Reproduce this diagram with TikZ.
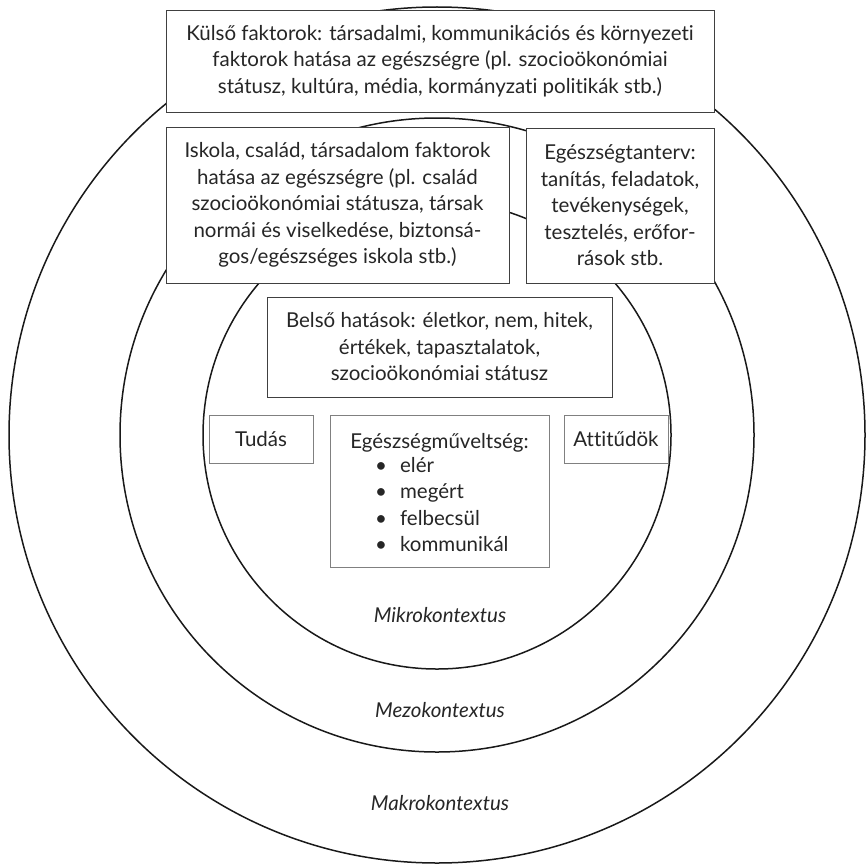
\documentclass[tikz,border=0pt]{standalone}
\usepackage{fontspec}
\setmainfont{Lato}[Ligatures=NoCommon]
\begin{document}
\begin{tikzpicture}[x=1pt,y=-1pt,
  ring/.style={draw=black!90, line width=1.5pt},
  boxa/.style={draw=black!75, line width=0.9pt, fill=white, rectangle, inner sep=0pt, align=center, text=black!85, font=\fontsize{20.5}{26.5}\selectfont},
  boxb/.style={boxa, draw=black!50},
  lbl/.style={text=black!85, font=\fontsize{20.5}{26.5}\selectfont\itshape},
  txt/.style={text=black!85, font=\fontsize{20.5}{26.5}\selectfont, inner sep=0pt}]
\useasboundingbox (0,0) rectangle (866,864);
\coordinate (c) at (437,435);
\draw[ring] (c) circle[radius=428pt];
\draw[ring] (c) circle[radius=317pt];
\draw[ring] (c) circle[radius=234pt];

\node[boxa, minimum width=548pt, minimum height=102pt] (top) at (440,61)
  {Külső faktorok: társadalmi, kommunikációs és környezeti\\faktorok hatása az egészségre (pl. szocioökonómiai\\státusz, kultúra, média, kormányzati politikák stb.)};
\node[boxa, minimum width=343pt, minimum height=156pt] (iskola) at (337.5,205)
  {Iskola, család, társadalom faktorok\\hatása az egészségre (pl. család\\szocioökonómiai státusza, társak\\normái és viselkedése, biztonsá-\\gos/egészséges iskola stb.)};
\node[boxa, minimum width=188pt, minimum height=155pt] (tanterv) at (620,205.5)
  {Egészségtanterv:\\tanítás, feladatok,\\tevékenységek,\\tesztelés, erőfor-\\rások stb.};
\node[boxa, minimum width=345pt, minimum height=100pt] (belso) at (439.5,347)
  {Belső hatások: életkor, nem, hitek,\\értékek, tapasztalatok,\\szocioökonómiai státusz};
\node[boxb, minimum width=104pt, minimum height=48pt] (tudas) at (261,439) {Tudás};
\node[boxb, minimum width=104pt, minimum height=48pt] (attit) at (616,439) {Attitűdök};
\node[boxb, minimum width=219pt, minimum height=152pt] (egmuv) at (439.5,491) {};
\node[txt, anchor=base] (egtitle) at (439.5,448) {Egészségműveltség:};
\node[txt, anchor=north west, align=left] (eglist) at (375,457)
  {\textbullet\hspace{13pt}elér\\\textbullet\hspace{13pt}megért\\\textbullet\hspace{13pt}felbecsül\\\textbullet\hspace{13pt}kommunikál};

\node[lbl] (mikro) at (440,615) {Mikrokontextus};
\node[lbl] (mezo) at (440,710) {Mezokontextus};
\node[lbl] (makro) at (440,803) {Makrokontextus};
\end{tikzpicture}
\end{document}
